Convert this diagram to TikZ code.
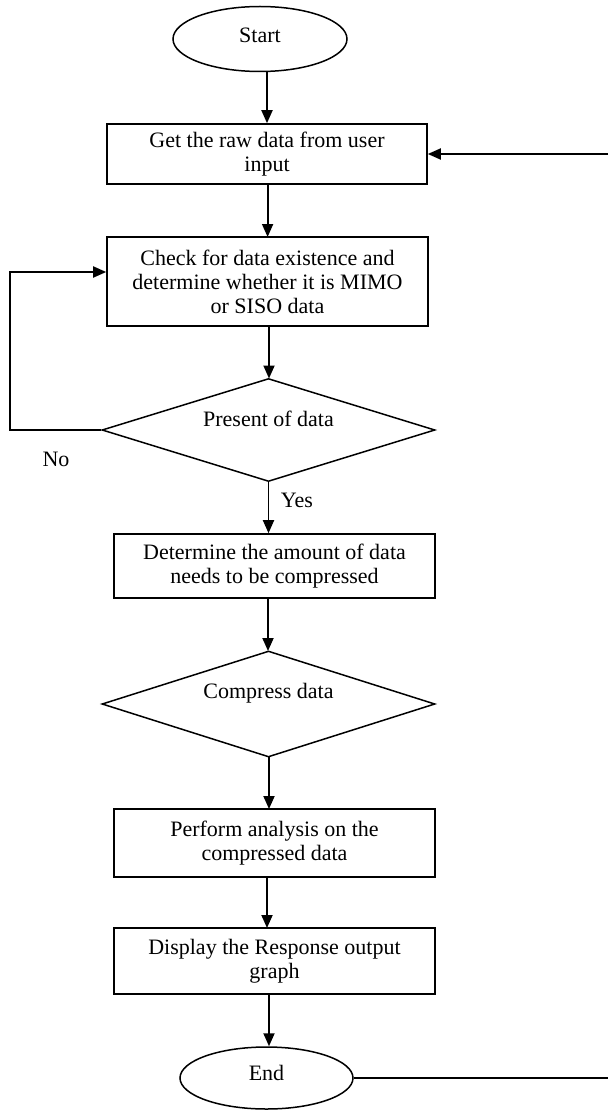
\documentclass[tikz,border=0pt]{standalone}
\usepackage{fontspec}
\setmainfont{Liberation Serif}
\usetikzlibrary{shapes.geometric,arrows.meta}
\begin{document}
\begin{tikzpicture}[x=1pt,y=-1pt,
  every node/.style={font=\fontsize{22}{24}\selectfont, inner sep=0pt},
  terminal/.style={draw, ellipse, line width=1.5pt},
  procbox/.style={draw, rectangle, line width=1.6pt, align=center},
  decision/.style={draw, diamond, line width=1.5pt, aspect=3.2},
  flow/.style={line width=1.8pt, -{Triangle[width=11pt,length=13pt]}},
  plain/.style={line width=1.6pt}]
\useasboundingbox (0,0) rectangle (608,1110);

% terminals and process steps
\node[terminal, minimum width=174pt, minimum height=65pt] (start) at (260,39) {};
\node (starttext) at (260,35) {Start};
\node[procbox, minimum width=320pt, minimum height=60pt] (getraw) at (267,154)
  {Get the raw data from user\\input};
\node[procbox, minimum width=321pt, minimum height=89pt] (check) at (267.5,281.5)
  {Check for data existence and\\determine whether it is MIMO\\or SISO data};
\node[decision, minimum width=333pt, minimum height=103pt] (present) at (268.5,430) {};
\node (presenttext) at (268.5,419) {Present of data};
\node[procbox, minimum width=321pt, minimum height=64pt] (amount) at (274.5,566)
  {Determine the amount of data\\needs to be compressed};
\node[decision, minimum width=333pt, minimum height=106pt] (compress) at (268.5,704) {};
\node (compresstext) at (268.5,693) {Compress data};
\node[procbox, minimum width=321pt, minimum height=68pt] (analysis) at (274.5,843)
  {Perform analysis on the\\compressed data};
\node[procbox, minimum width=321pt, minimum height=66pt] (display) at (274.5,961)
  {Display the Response output\\graph};
\node[terminal, minimum width=173pt, minimum height=62pt] (finish) at (266.5,1078) {};
\node (finishtext) at (266.5,1073) {End};

% branch labels
\node (nolabel) at (56,459) {No};
\node (yeslabel) at (297,500) {Yes};

% return line along the right edge
\coordinate (rtop) at (608,154);
\coordinate (rbot) at (608,1078);
\coordinate (loopa) at (10,430);
\coordinate (loopb) at (10,272);

% main flow
\draw[flow] (267,71.5) -- (getraw.north);
\draw[flow] (267.6,184) -- (267.6,237);
\draw[flow] (269,326) -- (269,378.5);
\draw[flow] (present.south) -- (present.south |- amount.north);
\draw[flow] (268,598) -- (268,651);
\draw[flow] (269,757) -- (269,809);
\draw[flow] (267,877) -- (267,928);
\draw[flow] (269,994) -- (finish.north -| 269,0);

% "No" loop back to the check step
\draw[flow] (present.west) -- (loopa) -- (loopb) -- (loopb -| check.west);

% line leaving End and arrow entering the input step
\draw[plain] (finish.east) -- (rbot);
\draw[flow] (rtop) -- (getraw.east);
\end{tikzpicture}
\end{document}
